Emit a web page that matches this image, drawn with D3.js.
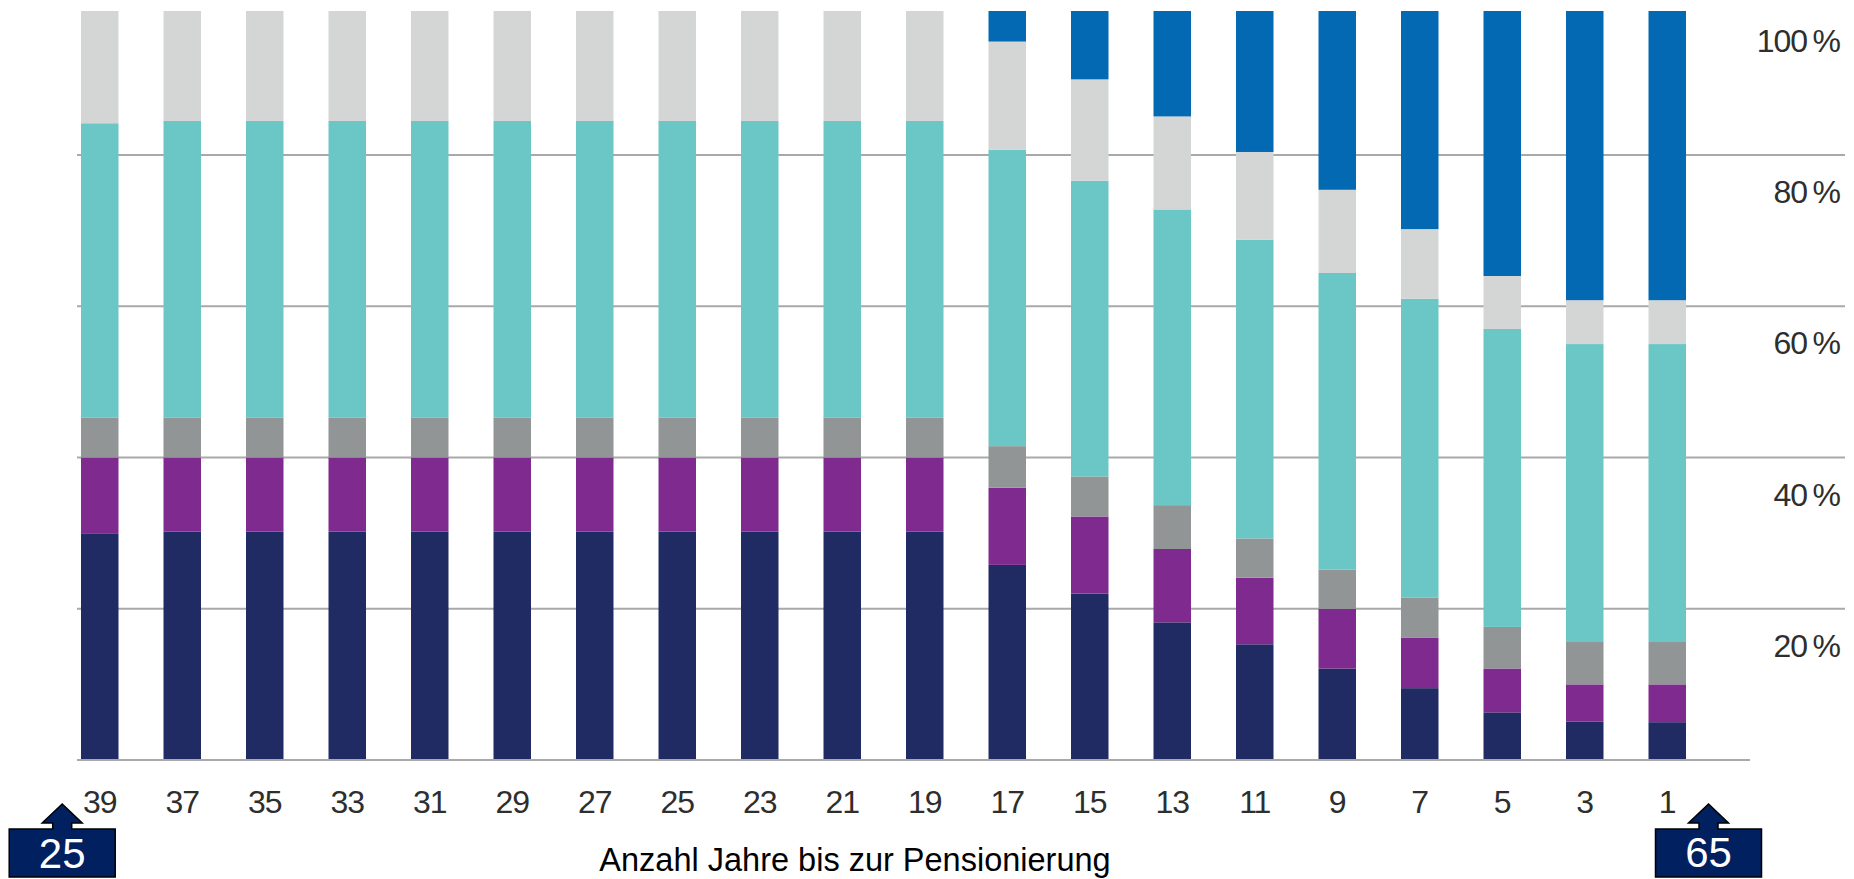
<!DOCTYPE html>
<html>
<head>
<meta charset="utf-8">
<script src="https://cdn.jsdelivr.net/npm/d3@7/dist/d3.min.js"></script>
<style>
  html, body { margin: 0; padding: 0; background: #fff; }
  svg { display: block; }
</style>
</head>
<body>
<svg id="chart" width="1854" height="879"></svg>
<script>
// ---- data ----
const categories = ["39","37","35","33","31","29","27","25","23","21","19","17","15","13","11","9","7","5","3","1"];
const seriesKeys = ["navy","purple","darkgrey","teal","lightgrey","blue"];
const navy      = [29.9,30.2,30.2,30.2,30.2,30.2,30.2,30.2,30.2,30.2,30.2,25.8,22.0,18.2,15.3,12.1, 9.5, 6.3, 5.1, 5.0];
const purple    = [10.1, 9.8, 9.8, 9.8, 9.8, 9.8, 9.8, 9.8, 9.8, 9.8, 9.8,10.2,10.2, 9.7, 8.8, 7.9, 6.7, 5.8, 4.9, 5.0];
const darkgrey  = [ 5.3, 5.3, 5.3, 5.3, 5.3, 5.3, 5.3, 5.3, 5.3, 5.3, 5.3, 5.5, 5.3, 5.8, 5.2, 5.2, 5.3, 5.5, 5.6, 5.6];
const teal      = [38.9,39.2,39.2,39.2,39.2,39.2,39.2,39.2,39.2,39.2,39.2,39.2,39.1,39.1,39.5,39.2,39.5,39.4,39.4,39.4];
const lightgrey = [15.8,15.5,15.5,15.5,15.5,15.5,15.5,15.5,15.5,15.5,15.5,14.3,13.4,12.3,11.6,11.0, 9.2, 7.0, 5.8, 5.8];
const blue      = [ 0.0, 0.0, 0.0, 0.0, 0.0, 0.0, 0.0, 0.0, 0.0, 0.0, 0.0, 5.0,10.0,14.9,19.6,24.6,29.8,36.0,39.2,39.2];
const yTicks = [20, 40, 60, 80, 100];
const yTickLabels = ["20\u2009%","40\u2009%","60\u2009%","80\u2009%","100\u2009%"];
const xTitle = "Anzahl Jahre bis zur Pensionierung";
const startAge = "25";
const endAge = "65";

// ---- styles ----
const colors = {navy:"#212b63", purple:"#7f2a8e", darkgrey:"#929596", teal:"#6bc7c5", lightgrey:"#d4d6d6", blue:"#0369b3"};

const table = categories.map((c, i) => ({
  cat: c, navy: navy[i], purple: purple[i], darkgrey: darkgrey[i],
  teal: teal[i], lightgrey: lightgrey[i], blue: blue[i]
}));

const svg = d3.select("#chart");

const x = d3.scaleBand().domain(categories).range([58.5, 1708.5])
  .paddingInner(0.5455).paddingOuter(0.2727);
const y = d3.scaleLinear().domain([0, 100]).range([760, 3.75]);

// clip (top of original chart is cut)
svg.append("defs").append("clipPath").attr("id", "plotclip")
  .append("rect").attr("x", 0).attr("y", 11).attr("width", 1854).attr("height", 760);

// gridlines
svg.append("g").selectAll("line").data(yTicks.filter(v => v < 100)).join("line")
  .attr("x1", 77).attr("x2", 1845)
  .attr("y1", d => y(d)).attr("y2", d => y(d))
  .attr("stroke", "#a9a9a9").attr("stroke-width", 2);

// bars
const stacked = d3.stack().keys(seriesKeys)(table);
svg.append("g").attr("clip-path", "url(#plotclip)")
  .selectAll("g").data(stacked).join("g")
  .attr("fill", d => colors[d.key])
  .selectAll("rect").data(d => d).join("rect")
  .attr("x", d => x(d.data.cat))
  .attr("width", x.bandwidth())
  .attr("y", d => y(d[1]))
  .attr("height", d => Math.max(0, y(d[0]) - y(d[1])));

// baseline
svg.append("line").attr("x1", 77).attr("x2", 1750)
  .attr("y1", y(0)).attr("y2", y(0))
  .attr("stroke", "#a9a9a9").attr("stroke-width", 2);

// y labels (right side, below each gridline)
svg.append("g").selectAll("text").data(yTicks).join("text")
  .attr("x", 1840).attr("y", d => y(d) + 48)
  .attr("text-anchor", "end")
  .attr("font-family", "Liberation Sans, Arial, sans-serif")
  .attr("font-size", 32).attr("fill", "#2e2e2e")
  .attr("letter-spacing", -1)
  .text((d, i) => yTickLabels[i]);

// x tick labels
svg.append("g").selectAll("text").data(categories).join("text")
  .attr("x", d => x(d) + x.bandwidth() / 2).attr("y", 813)
  .attr("text-anchor", "middle")
  .attr("font-family", "Liberation Sans, Arial, sans-serif")
  .attr("font-size", 32).attr("fill", "#2e2e2e")
  .attr("letter-spacing", -1)
  .text(d => d);

// axis title
svg.append("text").attr("x", 855).attr("y", 871)
  .attr("text-anchor", "middle")
  .attr("font-family", "Liberation Sans, Arial, sans-serif")
  .attr("font-size", 32.5).attr("fill", "#000")
  .text(xTitle);

// up-arrow callouts
function callout(cx, label, baseY) {
  const w = 106, top = 829, bot = 877, headY = 823, tip = 804, hw = 20, sw = 9.5;
  const p = d3.path();
  p.moveTo(cx - w / 2, top);
  p.lineTo(cx - sw, top);
  p.lineTo(cx - sw, headY);
  p.lineTo(cx - hw, headY);
  p.lineTo(cx, tip);
  p.lineTo(cx + hw, headY);
  p.lineTo(cx + sw, headY);
  p.lineTo(cx + sw, top);
  p.lineTo(cx + w / 2, top);
  p.lineTo(cx + w / 2, bot);
  p.lineTo(cx - w / 2, bot);
  p.closePath();
  svg.append("path").attr("d", p.toString())
    .attr("fill", "#002060").attr("stroke", "#000").attr("stroke-width", 1.5);
  svg.append("text").attr("x", cx).attr("y", baseY)
    .attr("text-anchor", "middle")
    .attr("font-family", "Liberation Sans, Arial, sans-serif")
    .attr("font-size", 42).attr("fill", "#fff")
    .text(label);
}
const firstC = x(categories[0]) + x.bandwidth() / 2;
const lastC = x(categories[categories.length - 1]) + x.bandwidth() / 2;
callout(firstC - x.step() * 0.455, startAge, 868);
callout(lastC + x.step() * 0.5, endAge, 867);
</script>
</body>
</html>
